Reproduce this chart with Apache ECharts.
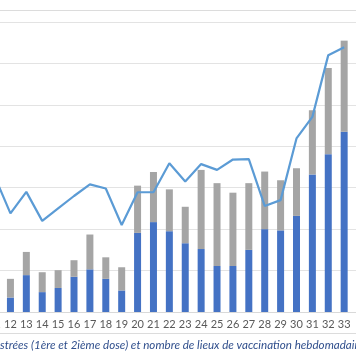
<!DOCTYPE html>
<html>
<head>
<meta charset="utf-8">
<script src="https://cdn.jsdelivr.net/npm/echarts@6/dist/echarts.min.js"></script>
<style>html,body{margin:0;padding:0;background:#fff;overflow:hidden;width:356px;height:364px;position:relative;}#c{position:absolute;left:-20px;top:0;width:400px;height:364px;}</style>
</head>
<body>
<div id="c"></div>
<script>
// Weeks (category labels); the trailing '' is an empty slot beyond the last week
const weeks = ['11','12','13','14','15','16','17','18','19','20','21','22','23','24','25','26','27','28','29','30','31','32','33',''];
// Doses administered per week (stacked): blue part and grey part
const dosesBlue = [null,3500,8900,4800,5800,8500,10300,8000,5200,19100,21700,19500,16600,15200,11100,11100,15000,20000,19700,23200,33200,38100,43500,null];
const dosesGrey = [null,4500,5600,4800,4300,4000,8400,5200,5600,11400,12100,10100,8800,19100,20000,17700,16100,13900,12100,11500,15500,20800,22000,null];
// Number of vaccination sites per week (line)
const sites = [32.8,23.8,29.0,22.0,25.0,28.0,30.8,29.8,21.0,28.9,28.9,35.9,31.5,35.7,34.3,36.8,36.9,25.6,27.0,41.9,47.1,62.0,63.9,null];
const titleFull = 'Nombre de doses administrées (1ère et 2ième dose) et nombre de lieux de vaccination hebdomadaires';

const OFF = 20; // chart canvas starts 20px left of the window
const ctx = document.createElement('canvas').getContext('2d');
const fam = 'Lato';
ctx.font = 'italic 100px ' + fam;
const visW = ctx.measureText('strées (1ère et 2ième dose) et nombre de lieux de vaccination hebdomadai').width;
const fs = 355 / visW * 100;
ctx.font = 'italic ' + fs + 'px ' + fam;
const preW = ctx.measureText('Nombre de doses admini').width;

const chart = echarts.init(document.getElementById('c'), null, {renderer: 'canvas'});
chart.setOption({
  animation: false,
  grid: {left: OFF - 13.4, top: 22, width: 381.4, height: 290, containLabel: false},
  xAxis: {
    type: 'category',
    data: weeks,
    axisLine: {show: true, lineStyle: {color: '#d9d9d9'}},
    axisTick: {show: false},
    axisLabel: {color: '#595959', fontSize: 11, fontFamily: 'Lato', margin: 7, interval: 0}
  },
  yAxis: [
    {type: 'value', min: 0, max: 70000, interval: 10000, axisLabel: {show: false}, axisLine: {show: false}, axisTick: {show: false},
     splitLine: {lineStyle: {color: '#e3e3e3', width: 1}}},
    {type: 'value', min: 0, max: 70, interval: 10, show: false, splitLine: {show: false}}
  ],
  series: [
    {type: 'bar', stack: 'd', data: dosesBlue, barWidth: 7, itemStyle: {color: '#4472C4'}},
    {type: 'bar', stack: 'd', data: dosesGrey, barWidth: 7, itemStyle: {color: '#A5A5A5'}},
    {type: 'line', yAxisIndex: 1, data: sites, showSymbol: false, symbol: 'none',
     lineStyle: {color: '#5B9BD5', width: 2.2}, z: 5}
  ],
  graphic: [
    {type: 'line', shape: {x1: OFF, y1: 10.5, x2: OFF + 356, y2: 10.5}, style: {stroke: '#dcdcdc', lineWidth: 1}},
    {type: 'line', shape: {x1: OFF, y1: 333.5, x2: OFF + 356, y2: 333.5}, style: {stroke: '#dcdcdc', lineWidth: 1}},
    {type: 'text', x: OFF - preW, y: 345.5, style: {text: titleFull, fill: '#2F4E8C', fontSize: fs, fontFamily: fam, fontStyle: 'italic', textVerticalAlign: 'middle'}}
  ]
});
</script>
</body>
</html>
